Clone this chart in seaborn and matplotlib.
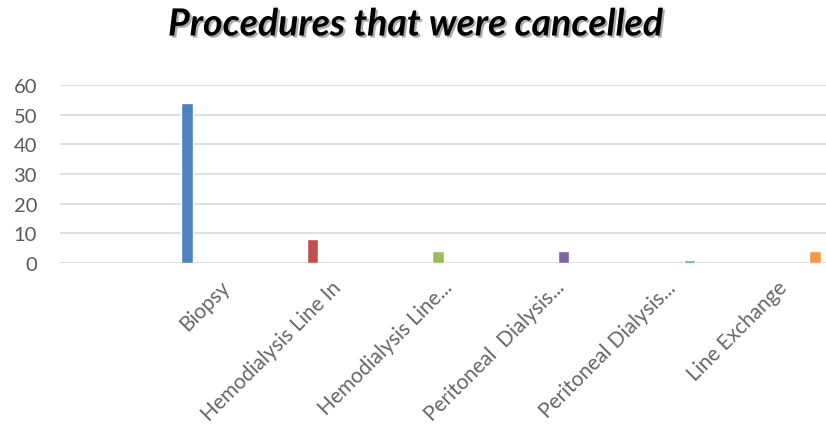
# Procedures that were cancelled - bar chart
import numpy as np
import pandas as pd
import matplotlib
matplotlib.use("Agg")
import matplotlib.pyplot as plt
import matplotlib.patheffects as pe
import seaborn as sns

# Data
procedures = ["Biopsy", "Hemodialysis Line In", "Hemodialysis Line...",
              "Peritoneal  Dialysis...", "Peritoneal Dialysis...", "Line Exchange"]
cancelled = [54, 8, 4, 4, 1, 4]
bar_colors = ["#4F81BD", "#C0504D", "#9BBB59", "#8064A2", "#4BACC6", "#F79646"]
y_ticks = [0, 10, 20, 30, 40, 50, 60]

df = pd.DataFrame({"procedure": procedures, "count": cancelled})

sns.set_style("white")
plt.rcParams["font.family"] = ["Lato", "DejaVu Sans"]

fig = plt.figure(figsize=(8.26, 4.39), dpi=100)
ax = fig.add_axes([0.0726, 0.399, 0.9274, 0.405])

sns.barplot(data=df, x="procedure", y="count", hue="procedure",
            palette=bar_colors, width=0.09, legend=False, ax=ax,
            saturation=1)

ax.set_ylim(0, 60)
ax.set_xlim(-1.011, 5.088)
ax.set_yticks(y_ticks)
ax.yaxis.grid(True, color="#d9d9d9", linewidth=1.2)
ax.set_axisbelow(True)
for s in ax.spines.values():
    s.set_visible(False)

# Tick labels (Excel places the rotated labels a little right of the bars)
ax.tick_params(axis="y", length=0, pad=16.5, labelsize=14.5, labelcolor="#595959")
ax.set_xticks(0.26 + np.arange(len(procedures)) * 0.887)
ax.set_xticklabels(procedures, rotation=45, ha="right", rotation_mode="anchor",
                   fontsize=15, color="#666666")
ax.tick_params(axis="x", length=0, pad=10)
ax.set_xlabel("")
ax.set_ylabel("")

# Title with shadow
fig.text(0.503, 0.943, "Procedures that were cancelled", ha="center", va="center",
         fontsize=27, fontweight="bold", fontstyle="italic", color="black",
         path_effects=[pe.withSimplePatchShadow(offset=(1.5, -1.5),
                                                shadow_rgbFace="#999999",
                                                alpha=0.8)])

fig.savefig("out.png", dpi=100)
